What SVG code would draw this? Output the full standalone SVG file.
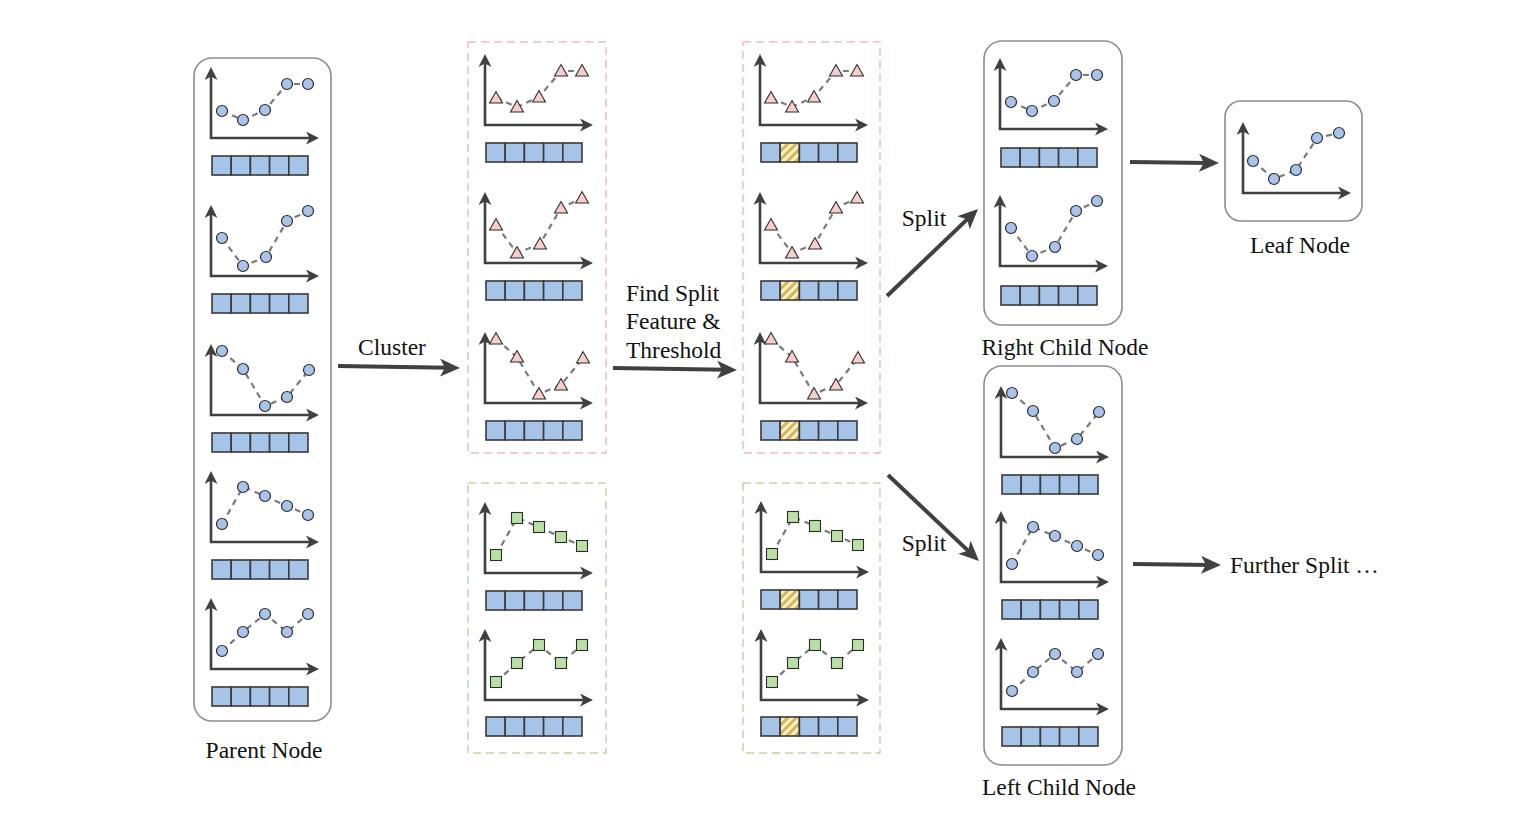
<svg xmlns="http://www.w3.org/2000/svg" width="1538" height="818" viewBox="0 0 1538 818">
<style>
.lbl{font-family:"Liberation Serif","Times New Roman",serif;font-size:23.5px;fill:#111}
.node{fill:none;stroke:#8c8c8c;stroke-width:1.6}
.pk{fill:none;stroke:#f0bcc4;stroke-width:1.5;stroke-dasharray:8 5}
.gr{fill:none;stroke:#bcd8a6;stroke-width:1.5;stroke-dasharray:8 5}
.ax{fill:none;stroke:#404040;stroke-width:2.6;marker-start:url(#ah);marker-end:url(#ah)}
.dl{fill:none;stroke:#7a7a7a;stroke-width:2.2;stroke-dasharray:6 5}
.c{fill:#a9c4eb;stroke:#2b2b2b;stroke-width:1.2}
.t{fill:#f8cecc;stroke:#2b2b2b;stroke-width:1.1}
.s{fill:#b9e0a5;stroke:#2b2b2b;stroke-width:1.1}
.cell{fill:#a6c3e8;stroke:#3a3a3a;stroke-width:1.6}
.conn{fill:none;stroke:#404040;stroke-width:4;marker-end:url(#big)}
</style>
<defs>
<marker id="ah" markerUnits="userSpaceOnUse" markerWidth="14" markerHeight="14" viewBox="0 0 14 14" refX="6" refY="6.5" orient="auto-start-reverse">
<path d="M0,0 L13,6.5 L0,13 L3.5,6.5 Z" fill="#404040"/>
</marker>
<marker id="big" markerUnits="userSpaceOnUse" markerWidth="22" markerHeight="20" viewBox="0 0 22 20" refX="10" refY="9" orient="auto">
<path d="M0,0 L20,9 L0,18 L5,9 Z" fill="#404040"/>
</marker>
<pattern id="hatch" patternUnits="userSpaceOnUse" width="6" height="6" patternTransform="rotate(45)">
<rect width="6" height="6" fill="#fff2cc"/>
<rect width="3" height="6" fill="#d6b656"/>
</pattern>
<polyline id="axes" class="ax" points="0,-64 0,0 101,0"/>
<g id="bar">
<rect class="cell" x="0" y="0" width="19.2" height="19"/>
<rect class="cell" x="19.2" y="0" width="19.2" height="19"/>
<rect class="cell" x="38.4" y="0" width="19.2" height="19"/>
<rect class="cell" x="57.6" y="0" width="19.2" height="19"/>
<rect class="cell" x="76.8" y="0" width="19.2" height="19"/>
</g>
<g id="barH">
<rect class="cell" x="0" y="0" width="19.2" height="19"/>
<rect class="cell" x="19.2" y="0" width="19.2" height="19" style="fill:url(#hatch)"/>
<rect class="cell" x="38.4" y="0" width="19.2" height="19"/>
<rect class="cell" x="57.6" y="0" width="19.2" height="19"/>
<rect class="cell" x="76.8" y="0" width="19.2" height="19"/>
</g>
<path id="tri" d="M-6.5,5 L0,-6.5 L6.5,5 Z"/>
<rect id="sq" x="-5.5" y="-5.5" width="11" height="11"/>
<g id="cA"><polyline class="dl" points="11,-27 32,-18 54,-28 76,-54 97,-54"/><g class="c"><circle cx="11" cy="-27" r="5.5"/><circle cx="32" cy="-18" r="5.5"/><circle cx="54" cy="-28" r="5.5"/><circle cx="76" cy="-54" r="5.5"/><circle cx="97" cy="-54" r="5.5"/></g></g>
<g id="cB"><polyline class="dl" points="11,-38 32,-10 55,-19 76,-55 97,-65"/><g class="c"><circle cx="11" cy="-38" r="5.5"/><circle cx="32" cy="-10" r="5.5"/><circle cx="55" cy="-19" r="5.5"/><circle cx="76" cy="-55" r="5.5"/><circle cx="97" cy="-65" r="5.5"/></g></g>
<g id="cC"><polyline class="dl" points="11,-64 32,-46 54,-9 76,-18 98,-45"/><g class="c"><circle cx="11" cy="-64" r="5.5"/><circle cx="32" cy="-46" r="5.5"/><circle cx="54" cy="-9" r="5.5"/><circle cx="76" cy="-18" r="5.5"/><circle cx="98" cy="-45" r="5.5"/></g></g>
<g id="cD"><polyline class="dl" points="11,-18 32,-55 54,-46 76,-36 97,-27"/><g class="c"><circle cx="11" cy="-18" r="5.5"/><circle cx="32" cy="-55" r="5.5"/><circle cx="54" cy="-46" r="5.5"/><circle cx="76" cy="-36" r="5.5"/><circle cx="97" cy="-27" r="5.5"/></g></g>
<g id="cE"><polyline class="dl" points="11,-18 32,-37 54,-55 76,-37 97,-55"/><g class="c"><circle cx="11" cy="-18" r="5.5"/><circle cx="32" cy="-37" r="5.5"/><circle cx="54" cy="-55" r="5.5"/><circle cx="76" cy="-37" r="5.5"/><circle cx="97" cy="-55" r="5.5"/></g></g>
<g id="tA"><polyline class="dl" points="11,-27 32,-18 54,-28 76,-54 97,-54"/><g class="t"><use href="#tri" x="11" y="-27"/><use href="#tri" x="32" y="-18"/><use href="#tri" x="54" y="-28"/><use href="#tri" x="76" y="-54"/><use href="#tri" x="97" y="-54"/></g></g>
<g id="tB"><polyline class="dl" points="11,-38 32,-10 55,-19 76,-55 97,-65"/><g class="t"><use href="#tri" x="11" y="-38"/><use href="#tri" x="32" y="-10"/><use href="#tri" x="55" y="-19"/><use href="#tri" x="76" y="-55"/><use href="#tri" x="97" y="-65"/></g></g>
<g id="tC"><polyline class="dl" points="11,-64 32,-46 54,-9 76,-18 98,-45"/><g class="t"><use href="#tri" x="11" y="-64"/><use href="#tri" x="32" y="-46"/><use href="#tri" x="54" y="-9"/><use href="#tri" x="76" y="-18"/><use href="#tri" x="98" y="-45"/></g></g>
<g id="sD"><polyline class="dl" points="11,-18 32,-55 54,-46 76,-36 97,-27"/><g class="s"><use href="#sq" x="11" y="-18"/><use href="#sq" x="32" y="-55"/><use href="#sq" x="54" y="-46"/><use href="#sq" x="76" y="-36"/><use href="#sq" x="97" y="-27"/></g></g>
<g id="sE"><polyline class="dl" points="11,-18 32,-37 54,-55 76,-37 97,-55"/><g class="s"><use href="#sq" x="11" y="-18"/><use href="#sq" x="32" y="-37"/><use href="#sq" x="54" y="-55"/><use href="#sq" x="76" y="-37"/><use href="#sq" x="97" y="-55"/></g></g>
</defs>
<rect width="1538" height="818" fill="#ffffff"/>

<g id="parent-node">
<rect class="node" x="194" y="58" width="137" height="663" rx="18"/>
<use href="#axes" x="211" y="138"/><use href="#bar" x="212" y="156"/><use href="#cA" x="211" y="138"/>
<use href="#axes" x="211" y="276"/><use href="#bar" x="212" y="294"/><use href="#cB" x="211" y="276"/>
<use href="#axes" x="211" y="415"/><use href="#bar" x="212" y="433"/><use href="#cC" x="211" y="415"/>
<use href="#axes" x="211" y="542"/><use href="#bar" x="212" y="560"/><use href="#cD" x="211" y="542"/>
<use href="#axes" x="211" y="669"/><use href="#bar" x="212" y="687"/><use href="#cE" x="211" y="669"/>
<text class="lbl" x="264" y="758" text-anchor="middle">Parent Node</text>
</g>

<g id="cluster-pink">
<rect class="pk" x="468" y="42" width="138" height="411"/>
<use href="#axes" x="485" y="125"/><use href="#bar" x="486" y="143"/><use href="#tA" x="485" y="125"/>
<use href="#axes" x="485" y="263"/><use href="#bar" x="486" y="281"/><use href="#tB" x="485" y="263"/>
<use href="#axes" x="485" y="403"/><use href="#bar" x="486" y="421"/><use href="#tC" x="485" y="403"/>
</g>

<g id="cluster-green">
<rect class="gr" x="468" y="483" width="138" height="270"/>
<use href="#axes" x="485" y="573"/><use href="#bar" x="486" y="591"/><use href="#sD" x="485" y="573"/>
<use href="#axes" x="485" y="700"/><use href="#bar" x="486" y="717"/><use href="#sE" x="485" y="700"/>
</g>

<g id="split-pink">
<rect class="pk" x="743" y="42" width="137" height="411"/>
<use href="#axes" x="760" y="125"/><use href="#barH" x="761" y="143"/><use href="#tA" x="760" y="125"/>
<use href="#axes" x="760" y="263"/><use href="#barH" x="761" y="281"/><use href="#tB" x="760" y="263"/>
<use href="#axes" x="760" y="403"/><use href="#barH" x="761" y="421"/><use href="#tC" x="760" y="403"/>
</g>

<g id="split-green">
<rect class="gr" x="743" y="483" width="137" height="270"/>
<use href="#axes" x="761" y="572"/><use href="#barH" x="761" y="590"/><use href="#sD" x="761" y="572"/>
<use href="#axes" x="761" y="700"/><use href="#barH" x="761" y="717"/><use href="#sE" x="761" y="700"/>
</g>

<g id="right-child-node">
<rect class="node" x="984" y="41" width="138" height="284" rx="18"/>
<use href="#axes" x="1000" y="129"/><use href="#bar" x="1001" y="148"/><use href="#cA" x="1000" y="129"/>
<use href="#axes" x="1000" y="266"/><use href="#bar" x="1001" y="286"/><use href="#cB" x="1000" y="266"/>
<text class="lbl" x="1065" y="355" text-anchor="middle">Right Child Node</text>
</g>

<g id="left-child-node">
<rect class="node" x="984" y="366" width="138" height="399" rx="18"/>
<use href="#axes" x="1001" y="457"/><use href="#bar" x="1002" y="475"/><use href="#cC" x="1001" y="457"/>
<use href="#axes" x="1001" y="582"/><use href="#bar" x="1002" y="600"/><use href="#cD" x="1001" y="582"/>
<use href="#axes" x="1001" y="709"/><use href="#bar" x="1002" y="727"/><use href="#cE" x="1001" y="709"/>
<text class="lbl" x="1059" y="795" text-anchor="middle">Left Child Node</text>
</g>

<g id="leaf-node">
<rect class="node" x="1225" y="101" width="137" height="120" rx="16"/>
<use href="#axes" x="1243" y="193"/>
<polyline class="dl" points="1253,161 1274,179 1296,170 1317,138 1339,133"/>
<g class="c"><circle cx="1253" cy="161" r="5.5"/><circle cx="1274" cy="179" r="5.5"/><circle cx="1296" cy="170" r="5.5"/><circle cx="1317" cy="138" r="5.5"/><circle cx="1339" cy="133" r="5.5"/></g>
<text class="lbl" x="1300" y="253" text-anchor="middle">Leaf Node</text>
</g>

<g id="further-split">
<text class="lbl" x="1230" y="573">Further Split …</text>
</g>

<g id="connectors">
<line class="conn" x1="338" y1="366" x2="450" y2="367.8"/>
<line class="conn" x1="613" y1="368" x2="727" y2="369.8"/>
<line class="conn" x1="887" y1="296" x2="970.8" y2="215.9"/>
<line class="conn" x1="888" y1="475" x2="971.7" y2="554.1"/>
<line class="conn" x1="1130" y1="162" x2="1209" y2="162.9"/>
<line class="conn" x1="1133" y1="564" x2="1211" y2="564.9"/>
<text class="lbl" x="392" y="355" text-anchor="middle">Cluster</text>
<text class="lbl" x="626" y="301">Find Split</text>
<text class="lbl" x="626" y="329">Feature &amp;</text>
<text class="lbl" x="626" y="358">Threshold</text>
<text class="lbl" x="924" y="226" text-anchor="middle">Split</text>
<text class="lbl" x="924" y="551" text-anchor="middle">Split</text>
</g>
</svg>
